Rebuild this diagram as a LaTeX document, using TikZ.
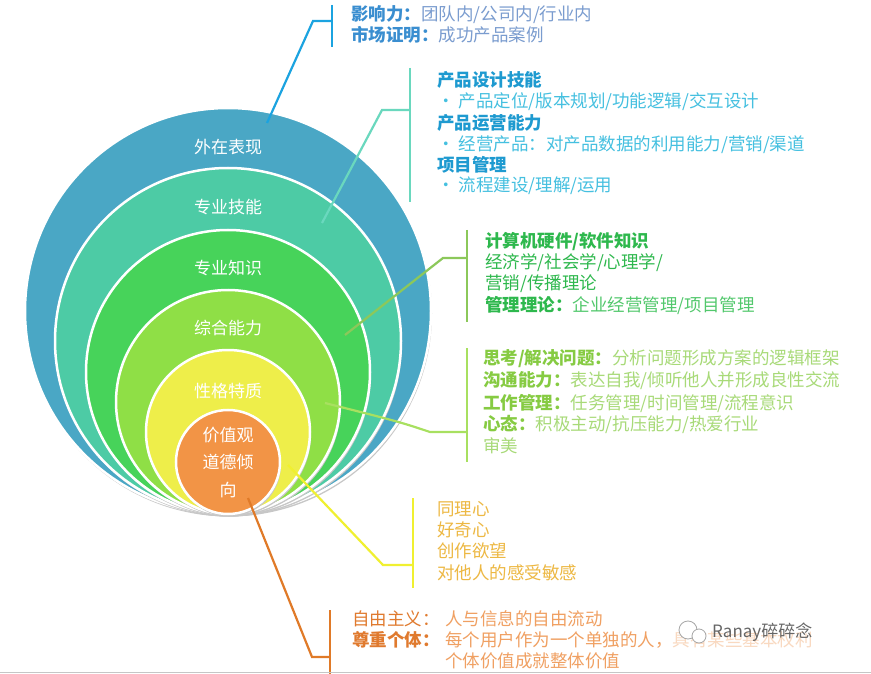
\documentclass[tikz,border=0pt]{standalone}
\usepackage{fontspec}
\setmainfont{Noto Sans CJK SC}
\definecolor{cBlue}{HTML}{4AA7C5}
\definecolor{cTeal}{HTML}{4DCBA5}
\definecolor{cGreen}{HTML}{47D35A}
\definecolor{cLime}{HTML}{8FDF46}
\definecolor{cYellow}{HTML}{EEEE4A}
\definecolor{cOrange}{HTML}{F29446}
\definecolor{lBlue}{HTML}{1BA3E0}
\definecolor{lTeal}{HTML}{6AD8BE}
\definecolor{lGreen}{HTML}{8CC85A}
\definecolor{lLime}{HTML}{A8E060}
\definecolor{lYellow}{HTML}{F0F030}
\definecolor{lOrange}{HTML}{E07A28}
\definecolor{tBlueH}{HTML}{3A8ED0}
\definecolor{tBlueC}{HTML}{7A9CCF}
\definecolor{tTealH}{HTML}{1E9AD0}
\definecolor{tTealC}{HTML}{45C0E0}
\definecolor{tGreenH}{HTML}{2EB84D}
\definecolor{tGreenC}{HTML}{52C86C}
\definecolor{tLimeH}{HTML}{86CB42}
\definecolor{tLimeC}{HTML}{A8DA78}
\definecolor{tGold}{HTML}{EDB843}
\definecolor{tOrangeH}{HTML}{E07A2E}
\definecolor{tOrangeC}{HTML}{F0A062}
\tikzset{
  ring/.style={circle, draw=white, line width=2.5pt, inner sep=0pt},
  clabel/.style={text=white, font=\fontsize{17}{17}\selectfont, inner sep=0pt},
  txt/.style={anchor=west, inner sep=0pt, font=\fontsize{17.5}{17.5}\selectfont},
  txtb/.style={txt, font=\fontsize{17.5}{17.5}\selectfont\bfseries},
  conn/.style={line width=2.2pt, line join=miter},
  brace/.style={line width=2.2pt},
}
\begin{document}
\begin{tikzpicture}[x=1pt,y=-1pt]
\useasboundingbox (0,0) rectangle (871,674);
\fill[white] (0,0) rectangle (871,674);
% circles
\foreach \r/\c/\n in {203/cBlue/c1, 173/cTeal/c2, 142/cGreen/c3, 112/cLime/c4, 82/cYellow/c5, 52/cOrange/c6} {
  \fill[black!22] (229,514-\r+2.5) circle[radius=\r];
  \node[ring, fill=\c, minimum size=2*\r pt] (\n) at (228,514-\r) {};
}
% circle labels
\node[clabel] (l1) at (228,147) {外在表现};
\node[clabel] (l2) at (228,207) {专业技能};
\node[clabel] (l3) at (228,268) {专业知识};
\node[clabel] (l4) at (228,328) {综合能力};
\node[clabel] (l5) at (228,391) {性格特质};
\node[clabel] (l6a) at (228,435) {价值观};
\node[clabel] (l6b) at (228,462) {道德倾};
\node[clabel] (l6c) at (228,490) {向};
% connector anchor points
\coordinate (p1s) at (267,123); \coordinate (p1k) at (313,21); \coordinate (p1e) at (332,21);
\coordinate (b1t) at (332,5); \coordinate (b1b) at (332,47);
\coordinate (p2s) at (322,223); \coordinate (p2k) at (382,110); \coordinate (p2e) at (410,110);
\coordinate (b2t) at (410,68); \coordinate (b2b) at (410,202);
\coordinate (p3s) at (345,335); \coordinate (p3k) at (443,258); \coordinate (p3e) at (467,258);
\coordinate (b3t) at (467,230); \coordinate (b3b) at (467,322);
\coordinate (p4s) at (325,403); \coordinate (p4k) at (430,432); \coordinate (p4e) at (467,432);
\coordinate (b4t) at (467,348); \coordinate (b4b) at (467,462);
\coordinate (p5s) at (288,465); \coordinate (p5k) at (383,565); \coordinate (p5e) at (413,565);
\coordinate (b5t) at (413,498); \coordinate (b5b) at (413,588);
\coordinate (p6s) at (248,498); \coordinate (p6k) at (312,657); \coordinate (p6e) at (330,657);
\coordinate (b6t) at (330,610); \coordinate (b6b) at (330,674);
% connectors
\draw[conn, lBlue] (p1s) -- (p1k) -- (p1e);
\draw[brace, lBlue] (b1t) -- (b1b);
\draw[conn, lTeal] (p2s) -- (p2k) -- (p2e);
\draw[brace, lTeal] (b2t) -- (b2b);
\draw[conn, lGreen] (p3s) -- (p3k) -- (p3e);
\draw[brace, lGreen] (b3t) -- (b3b);
\draw[conn, lLime] (p4s) .. controls (400,422) .. (p4k) -- (p4e);
\draw[brace, lLime] (b4t) -- (b4b);
\draw[conn, lYellow] (p5s) -- (p5k) -- (p5e);
\draw[brace, lYellow] (b5t) -- (b5b);
\draw[conn, lOrange] (p6s) -- (p6k) -- (p6e);
\draw[brace, lOrange] (b6t) -- (b6b);
% group 1
\node[txt] (g1a) at (351,15) {{\color{tBlueH}\bfseries 影响力：}{\color{tBlueC}团队内/公司内/行业内}};
\node[txt] (g1b) at (351,35) {{\color{tBlueH}\bfseries 市场证明：}{\color{tBlueC}成功产品案例}};
% group 2
\node[txtb, text=tTealH] (g2a) at (437,80) {产品设计技能};
\node[txt, text=tTealC] (g2b) at (437,102) {•\hspace{4pt}产品定位/版本规划/功能逻辑/交互设计};
\node[txtb, text=tTealH] (g2c) at (437,123) {产品运营能力};
\node[txt, text=tTealC] (g2d) at (437,145) {•\hspace{4pt}经营产品：对产品数据的利用能力/营销/渠道};
\node[txtb, text=tTealH] (g2e) at (437,165) {项目管理};
\node[txt, text=tTealC] (g2f) at (437,186) {•\hspace{4pt}流程建设/理解/运用};
% group 3
\node[txtb, text=tGreenH] (g3a) at (485,242) {计算机硬件/软件知识};
\node[txt, text=tGreenH] (g3b) at (485,263) {经济学/社会学/心理学/};
\node[txt, text=tGreenH] (g3c) at (485,284) {营销/传播理论};
\node[txt] (g3d) at (485,305) {{\color{tGreenH}\bfseries 管理理论：}{\color{tGreenC}企业经营管理/项目管理}};
% group 4
\node[txt] (g4a) at (483,359) {{\color{tLimeH}\bfseries 思考/解决问题：}{\color{tLimeC}分析问题形成方案的逻辑框架}};
\node[txt] (g4b) at (483,381) {{\color{tLimeH}\bfseries 沟通能力：}{\color{tLimeC}表达自我/倾听他人并形成良性交流}};
\node[txt] (g4c) at (483,403) {{\color{tLimeH}\bfseries 工作管理：}{\color{tLimeC}任务管理/时间管理/流程意识}};
\node[txt] (g4d) at (483,424) {{\color{tLimeH}\bfseries 心态：}{\color{tLimeC}积极主动/抗压能力/热爱行业}};
\node[txt, text=tLimeC] (g4e) at (483,446) {审美};
% group 5
\node[txt, text=tGold] (g5a) at (437,509) {同理心};
\node[txt, text=tGold] (g5b) at (437,530) {好奇心};
\node[txt, text=tGold] (g5c) at (437,551) {创作欲望};
\node[txt, text=tGold] (g5d) at (437,573) {对他人的感受敏感};
% group 6
\node[txt, text=tOrangeH] (g6a) at (352,619) {自由主义：};
\node[txt, text=tOrangeC] (g6b) at (445,619) {人与信息的自由流动};
\node[txtb, text=tOrangeH] (g6c) at (352,640) {尊重个体：};
\node[txt, text=tOrangeC] (g6d) at (445,640) {每个用户作为一个单独的人，具有某些基本权利};
\node[txt, text=tOrangeC] (g6e) at (445,661) {个体价值成就整体价值};
% watermark
\fill[white, opacity=0.6] (672,618) rectangle (850,650);
\draw[gray!70, line width=0.8pt, fill=white] (688,630) circle[radius=9];
\draw[gray!70, line width=0.8pt, fill=white] (699,636) circle[radius=7];
\node[txt, text=gray!80!black, font=\fontsize{17}{17}\selectfont] (wm) at (712,632) {Ranay碎碎念};
% bottom rule
\draw[gray!45, line width=1.2pt] (0,672.5) -- (871,672.5);
\end{tikzpicture}
\end{document}
